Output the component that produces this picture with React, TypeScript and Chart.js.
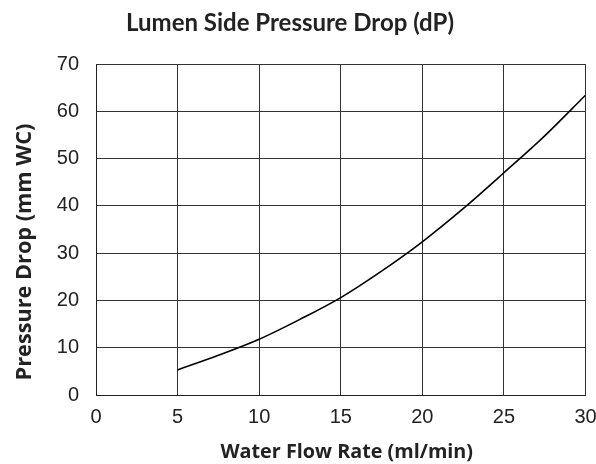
import { useEffect, useRef } from 'react';
import { Chart, registerables } from 'chart.js';

Chart.register(...registerables);

const chartTitle = 'Lumen Side Pressure Drop (dP)';
const xAxisTitle = 'Water Flow Rate (ml/min)';
const yAxisTitle = 'Pressure Drop (mm WC)';

const flowRates = [5, 7.5, 10, 12.5, 15, 17.5, 20, 22.5, 25, 27.5, 30];
const pressureDrop = [5.3, 8.4, 11.8, 16.0, 20.6, 26.2, 32.4, 39.4, 47.0, 54.8, 63.4];

const xMin = 0;
const xMax = 30;
const xStep = 5;
const yMin = 0;
const yMax = 70;
const yStep = 10;

const textPlugin = {
  id: 'customText',
  afterDraw(chart: any) {
    const ctx = chart.ctx;
    const a = chart.chartArea;
    ctx.save();
    ctx.fillStyle = '#222';
    ctx.textAlign = 'center';
    ctx.textBaseline = 'alphabetic';
    ctx.font = 'bold 24px Lato';
    ctx.fillText(chartTitle, 290, 31);
    ctx.font = 'bold 19.8px "Open Sans"';
    ctx.fillText(xAxisTitle, (a.left + a.right) / 2 + 6, 458);
    ctx.font = 'bold 21.7px "Open Sans"';
    ctx.translate(31, 252);
    ctx.rotate(-Math.PI / 2);
    ctx.fillText(yAxisTitle, 0, 0);
    ctx.restore();
  },
};

export default function App() {
  const ref = useRef<HTMLCanvasElement>(null);
  useEffect(() => {
    document.body.style.margin = '0';
    const canvas = ref.current;
    if (!canvas) return;
    const chart = new Chart(canvas, {
      type: 'line',
      data: {
        datasets: [
          {
            data: flowRates.map((x, i) => ({ x, y: pressureDrop[i] })),
            borderColor: '#000',
            borderWidth: 1.6,
            pointRadius: 0,
            cubicInterpolationMode: 'monotone',
            fill: false,
          },
        ],
      },
      options: {
        animation: false,
        responsive: false,
        layout: { padding: { top: 64, right: 0, left: 0, bottom: 0 } },
        plugins: {
          legend: { display: false },
          title: { display: false },
          tooltip: { enabled: false },
        },
        scales: {
          x: {
            type: 'linear',
            min: xMin,
            max: xMax,
            ticks: {
              stepSize: xStep,
              color: '#222',
              padding: 10,
              font: { family: 'Liberation Sans', size: 20 },
            },
            grid: { color: '#333', lineWidth: 1, drawTicks: false },
            border: { color: '#222', width: 1 },
            afterFit: (s: any) => {
              s.height = 69;
              s.paddingRight = 10.5;
              s.paddingLeft = 0;
            },
          },
          y: {
            min: yMin,
            max: yMax,
            ticks: {
              stepSize: yStep,
              color: '#222',
              padding: 17,
              font: { family: 'Liberation Sans', size: 20 },
            },
            grid: { color: '#333', lineWidth: 1, drawTicks: false },
            border: { color: '#222', width: 1 },
            afterFit: (s: any) => {
              s.width = 96;
            },
          },
        },
      },
      plugins: [textPlugin],
    });
    return () => chart.destroy();
  }, []);
  return (
    <div style={{ width: 596, height: 464 }}>
      <canvas ref={ref} width={596} height={464} style={{ display: 'block' }} />
    </div>
  );
}
